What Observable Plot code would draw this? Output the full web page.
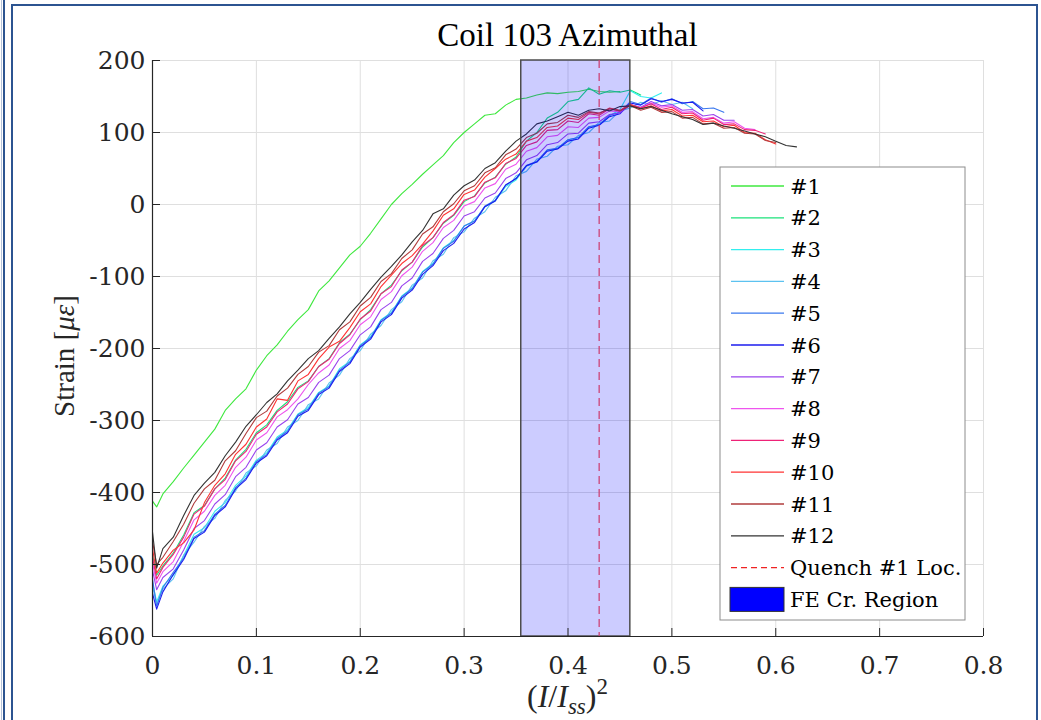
<!DOCTYPE html>
<html><head><meta charset="utf-8">
<script src="https://cdn.jsdelivr.net/npm/d3@7"></script>
<script src="https://cdn.jsdelivr.net/npm/@observablehq/plot@0.6"></script>
<style>
html,body{margin:0;padding:0;background:#fff;}
#wrap{position:relative;width:1041px;height:720px;overflow:hidden;background:#fff;}
#wrap svg{position:absolute;left:0;top:0;}
.fr{position:absolute;background:#2c5491;}
</style></head><body>
<div id="wrap">
  <div class="fr" style="left:1px;top:0;width:1px;height:720px;background:#b5c3da"></div>
  <div class="fr" style="left:3px;top:0;width:2px;height:720px;"></div>
  <div class="fr" style="left:11px;top:4px;width:2px;height:716px;"></div>
  <div class="fr" style="left:11px;top:4px;width:1027px;height:2px;"></div>
  <div class="fr" style="left:1036px;top:4px;width:2px;height:716px;"></div>
</div>
<script>
// ---------- data ----------
const xDomain = [0, 0.8];
const yDomain = [-600, 200];
const xTicks = [0, 0.1, 0.2, 0.3, 0.4, 0.5, 0.6, 0.7, 0.8];
const xTickLabels = ["0", "0.1", "0.2", "0.3", "0.4", "0.5", "0.6", "0.7", "0.8"];
const yTicks = [-600, -500, -400, -300, -200, -100, 0, 100, 200];
const yTickLabels = ["-600", "-500", "-400", "-300", "-200", "-100", "0", "100", "200"];

// shared (I/Iss)^2 sample grid
const X = [0,0.004,0.01,0.02,0.03,0.04,0.05,0.06,0.07,0.08,0.09,0.10,0.11,0.12,0.13,0.14,0.15,0.16,0.17,0.18,0.19,0.20,0.21,0.22,0.23,0.24,0.25,0.26,0.27,0.28,0.29,0.30,0.31,0.32,0.33,0.34,0.35,0.36,0.37,0.38,0.39,0.40,0.41,0.42,0.43,0.44,0.45,0.46,0.47,0.48,0.49,0.50,0.51,0.52,0.53,0.54,0.55,0.56,0.57,0.58,0.59,0.60,0.61,0.62];

const s1 = [-412,-420,-402,-385,-366,-348,-330,-312,-286,-270,-256,-230,-210,-195,-176,-160,-146,-120,-106,-88,-70,-58,-40,-20,0,15,28,42,55,68,86,100,112,124,126,138,146,148,152,155,154,156,157,160,157,156,157];
const s2 = [-486,-515,-502,-484,-459,-428,-418,-395,-380,-355,-340,-317,-306,-286,-274,-254,-245,-225,-214,-192,-180,-160,-146,-124,-112,-92,-80,-59,-46,-26,-15,4,12,30,38,56,66,88,100,120,128,143,146,162,153,158,156,159,152];
const s3 = [-525,-552,-530,-515,-488,-458,-449,-426,-414,-390,-377,-355,-345,-323,-313,-291,-282,-261,-252,-228,-218,-195,-184,-160,-150,-127,-116,-93,-82,-60,-50,-30,-23,-3,5,25,34,53,59,75,78,90,93,107,111,123,132,158,150,148,155];
const s4 = [-530,-556,-534,-520,-487,-469,-447,-436,-411,-398,-373,-363,-341,-332,-309,-300,-278,-270,-248,-237,-214,-203,-180,-168,-146,-135,-112,-102,-78,-69,-46,-38,-19,-10,10,19,40,46,63,67,81,83,96,100,114,116,130,134,142,139,144,139,142,133];
const s5 = [-520,-558,-532,-511,-491,-462,-453,-430,-418,-393,-380,-357,-347,-325,-315,-292,-284,-262,-253,-230,-219,-196,-185,-161,-151,-128,-117,-94,-83,-61,-51,-30,-23,-2,6,27,36,54,60,76,78,90,93,108,111,124,128,143,139,148,142,147,140,143,133,134,128];
const s6 = [-540,-562,-538,-514,-493,-464,-455,-432,-420,-395,-382,-359,-349,-327,-317,-294,-286,-264,-255,-232,-221,-198,-187,-163,-153,-130,-119,-97,-85,-64,-54,-34,-25,-3,5,27,36,54,59,74,77,88,91,106,110,122,126,141,138,147,143,146,141,142,130];
const s7 = [-508,-535,-518,-506,-480,-450,-439,-416,-403,-378,-365,-341,-331,-309,-299,-277,-268,-247,-237,-214,-203,-181,-170,-146,-136,-113,-102,-79,-68,-47,-36,-16,-10,9,16,36,44,62,68,83,86,98,99,113,115,125,127,139,135,143,137,139,131,132,123,125,117,117];
const s8 = [-498,-526,-510,-496,-468,-438,-426,-404,-390,-365,-351,-327,-317,-295,-285,-270,-250,-234,-223,-200,-189,-167,-156,-132,-121,-99,-87,-65,-53,-32,-22,-2,4,23,29,49,56,74,79,94,96,108,107,120,121,130,129,138,134,141,135,137,128,129,119,121,113,115,106,104];
const s9 = [-490,-520,-504,-486,-462,-430,-419,-395,-382,-356,-343,-319,-309,-288,-277,-256,-246,-225,-215,-193,-181,-159,-148,-124,-114,-91,-80,-57,-46,-25,-14,6,11,31,37,57,64,82,87,103,104,116,114,126,124,133,130,139,134,140,132,135,126,127,117,120,111,112,104,103,98];
const s10 = [-478,-512,-498,-480,-470,-452,-414,-390,-374,-347,-333,-309,-298,-270,-272,-245,-236,-214,-198,-190,-171,-149,-138,-114,-98,-82,-71,-55,-37,-15,-6,14,20,38,50,63,70,88,93,107,109,120,118,128,126,134,131,139,133,137,130,132,123,124,115,116,108,110,100,99,90,84];
const s11 = [-468,-500,-490,-468,-444,-415,-395,-383,-356,-342,-318,-296,-287,-266,-255,-236,-225,-205,-196,-174,-163,-141,-129,-107,-96,-75,-63,-41,-31,-10,1,19,26,44,51,69,77,93,99,112,114,124,121,129,127,133,130,137,131,135,128,129,120,121,112,113,106,107,99,98,89,86];
const s12 = [-455,-505,-478,-462,-432,-404,-387,-372,-349,-330,-308,-292,-275,-263,-245,-230,-214,-203,-186,-170,-152,-136,-118,-101,-86,-70,-52,-36,-13,-6,13,26,34,50,58,74,88,98,112,116,122,128,124,131,133,130,136,137,133,136,131,126,122,118,111,113,109,106,102,98,94,88,82,80];

const seriesNames = ["#1","#2","#3","#4","#5","#6","#7","#8","#9","#10","#11","#12"];
const seriesColors = ["#3fe83f","#1be27a","#33eeee","#5cc2f0","#3a78ee","#1c1cee","#9a44ee","#ee55ee","#ee2277","#ff3333","#b03c3c","#333333"];
const seriesValues = [s1,s2,s3,s4,s5,s6,s7,s8,s9,s10,s11,s12];

const quenchLoc = 0.43;                 // Quench #1 location
const feRegion = {x1: 0.355, x2: 0.46}; // FE critical region
const titleText = "Coil 103 Azimuthal";

// ---------- chart ----------
const W = 1041, H = 720;
const mL = 152, mR = 58, mT = 60, mB = 84;
const plotW = W - mL - mR, plotH = H - mT - mB;

const rows = seriesValues.map((vals, i) => vals.map((v, j) => ({x: X[j], y: v, k: seriesNames[i]})));

const chart = Plot.plot({
  width: W, height: H,
  marginLeft: mL, marginRight: mR, marginTop: mT, marginBottom: mB,
  style: {fontFamily: "'DejaVu Serif', serif", fontSize: "25px", color: "#262626", background: "transparent", overflow: "visible"},
  x: {domain: xDomain},
  y: {domain: yDomain},
  marks: [
    Plot.gridX(xTicks, {stroke: "#dfdfdf", strokeOpacity: 1}),
    Plot.gridY(yTicks, {stroke: "#dfdfdf", strokeOpacity: 1}),
    ...rows.map((r, i) => Plot.line(r, {x: "x", y: "y", stroke: seriesColors[i], strokeWidth: 1.1})),
    Plot.rect([feRegion], {x1: "x1", x2: "x2", y1: () => yDomain[0], y2: () => yDomain[1], fill: "#0000ff", fillOpacity: 0.2, stroke: "#4d4d4d", strokeWidth: 1.5}),
    Plot.ruleX([quenchLoc], {stroke: "#cc4477", strokeWidth: 1.3, strokeDasharray: "8,5"}),
    Plot.ruleY([yDomain[0]], {stroke: "#262626", strokeWidth: 1.2}),
    Plot.ruleX([xDomain[0]], {stroke: "#262626", strokeWidth: 1.2}),
    Plot.tickX(xTicks, {x: d => d, insetTop: plotH - 8, stroke: "#262626"}),
    Plot.tickY(yTicks, {y: d => d, insetRight: plotW - 8, stroke: "#262626"}),
    Plot.axisY(yTicks, {tickSize: 0, tickPadding: 7, tickFormat: d => yTickLabels[yTicks.indexOf(d)], label: null, fill: "#262626"}),
    Plot.axisX(xTicks, {tickSize: 0, tickPadding: 20, tickFormat: d => xTickLabels[xTicks.indexOf(d)], label: null, fill: "#262626"})
  ]
});

document.getElementById("wrap").appendChild(chart);

const svg = d3.select(chart);
// title
svg.append("text").attr("x", mL + plotW / 2).attr("y", 46).attr("text-anchor", "middle")
  .attr("font-family", "'Liberation Serif', serif").attr("font-size", 33).attr("fill", "#000").text(titleText);
// y label
const yl = svg.append("text").attr("transform", `translate(74,${mT + plotH / 2 + 8}) rotate(-90)`).attr("text-anchor", "middle")
  .attr("font-family", "'Liberation Serif', serif").attr("font-size", 29).attr("fill", "#262626");
yl.append("tspan").text("Strain [");
yl.append("tspan").attr("font-style", "italic").text("με");
yl.append("tspan").text("]");
// x label
const xl = svg.append("text").attr("x", mL + plotW / 2).attr("y", 707).attr("text-anchor", "middle")
  .attr("font-family", "'Liberation Serif', serif").attr("font-size", 32).attr("fill", "#262626");
xl.append("tspan").text("(");
xl.append("tspan").attr("font-style", "italic").text("I");
xl.append("tspan").text("/");
xl.append("tspan").attr("font-style", "italic").text("I");
xl.append("tspan").attr("font-style", "italic").attr("font-size", 23).attr("dy", 7).text("ss");
xl.append("tspan").attr("dy", -7).text(")");
xl.append("tspan").attr("font-size", 23).attr("dy", -13).text("2");

// legend
const lg = svg.append("g").attr("font-family", "'DejaVu Serif', serif").attr("font-size", 21)
  .attr("fill", "#000").attr("text-anchor", "start");
lg.append("rect").attr("x", 720).attr("y", 167).attr("width", 245).attr("height", 453)
  .attr("fill", "#fff").attr("stroke", "#8c8c8c").attr("stroke-width", 1);
const rowH = 31.8, ly0 = 186;
seriesNames.forEach((name, i) => {
  const y = ly0 + i * rowH;
  lg.append("line").attr("x1", 731).attr("x2", 784).attr("y1", y).attr("y2", y)
    .attr("stroke", seriesColors[i]).attr("stroke-width", 1.3);
  lg.append("text").attr("x", 790).attr("y", y).attr("dy", "0.36em").attr("text-anchor", "start").text(name);
});
{
  const y = ly0 + 12 * rowH;
  lg.append("line").attr("x1", 731).attr("x2", 784).attr("y1", y).attr("y2", y)
    .attr("stroke", "#ee2222").attr("stroke-width", 1.2).attr("stroke-dasharray", "6,4");
  lg.append("text").attr("x", 790).attr("y", y).attr("dy", "0.36em").attr("text-anchor", "start").text("Quench #1 Loc.");
  const y2 = ly0 + 13 * rowH;
  lg.append("rect").attr("x", 730).attr("y", y2 - 12).attr("width", 54).attr("height", 24)
    .attr("fill", "#0000ff").attr("stroke", "#333").attr("stroke-width", 1);
  lg.append("text").attr("x", 790).attr("y", y2).attr("dy", "0.36em").attr("text-anchor", "start").text("FE Cr. Region");
}
</script>
</body></html>
